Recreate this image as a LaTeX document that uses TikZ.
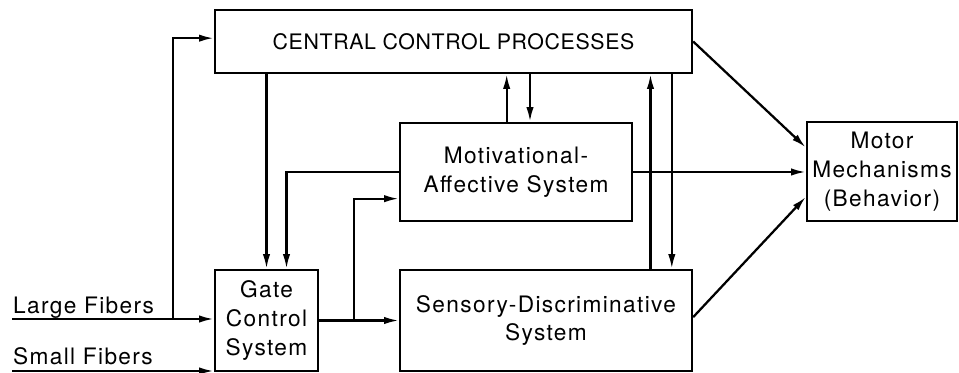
\documentclass[tikz,border=0pt]{standalone}
\usepackage{fontspec}
\setmainfont{TeX Gyre Heros}[LetterSpace=6]
\newfontfamily\capsfont{TeX Gyre Heros}[LetterSpace=3]
\usetikzlibrary{arrows.meta}
\tikzset{
  box/.style={draw, line width=1.7pt, inner sep=0pt, align=center},
  >={Latex[length=11pt,width=5.5pt]}
}
\begin{document}
\begin{tikzpicture}[x=0.75pt, y=0.75pt, line width=1.7pt,
    font=\fontsize{17}{21.5}\selectfont]
      \useasboundingbox (0,0) rectangle (959,373);
      \node[box, minimum width=357.8pt, minimum height=47.3pt] (central) at (453.5,331.5)
        {\capsfont\fontsize{16}{20}\selectfont CENTRAL CONTROL PROCESSES};
      \node[box, minimum width=174pt, minimum height=73.5pt] (mot) at (516,201)
        {Motivational-\\Affective System};
      \node[box, minimum width=219pt, minimum height=75.8pt] (sens) at (546,52.5)
        {Sensory-Discriminative\\System};
      \node[box, minimum width=77.3pt, minimum height=75.8pt] (gate) at (266.5,52.5)
        {Gate\\Control\\System};
      \node[box, minimum width=112.5pt, minimum height=74.3pt] (motor) at (882,201.5)
        {Motor\\Mechanisms\\(Behavior)};
      \node[anchor=base west, inner sep=0pt] (lflabel) at (12,59) {Large Fibers};
      \node[anchor=base west, inner sep=0pt] (sflabel) at (12,8) {Small Fibers};
      \coordinate (lf) at (12,54);
      \coordinate (sf) at (12,2);
      \coordinate (lfsplit) at (173,54);
      \coordinate (gsplit) at (354,52.5);
      \begin{scope}[->]
        \draw (lf) -- (lf -| gate.west);
        \draw (sf) -- (sf -| gate.west);
        \draw (lfsplit) |- ([yshift=2.5pt]central.west);
        \draw (gate.north |- central.south) -- (gate.north);
        \draw (mot.west) -| ([xshift=15pt]gate.north);
        \draw (gate.east) -- (sens.west);
        \draw (gsplit) |- ([yshift=-20pt]mot.west);
        \draw ([xshift=-7pt]mot.north) -- ([xshift=-7pt]mot.north |- central.south);
        \draw ([xshift=10.5pt]mot.north |- central.south) -- ([xshift=10.5pt]mot.north);
        \draw ([xshift=-32pt]sens.north east) -- ([xshift=-32pt]sens.north east |- central.south);
        \draw ([xshift=-16pt]sens.north east |- central.south) -- ([xshift=-16pt]sens.north east);
        \draw (mot.east) -- (mot.east -| motor.west);
        \draw (central.east) -- ([yshift=18pt]motor.west);
        \draw ([yshift=2.5pt]sens.east) -- ([yshift=-19pt]motor.west);
      \end{scope}
    \end{tikzpicture}
\end{document}
